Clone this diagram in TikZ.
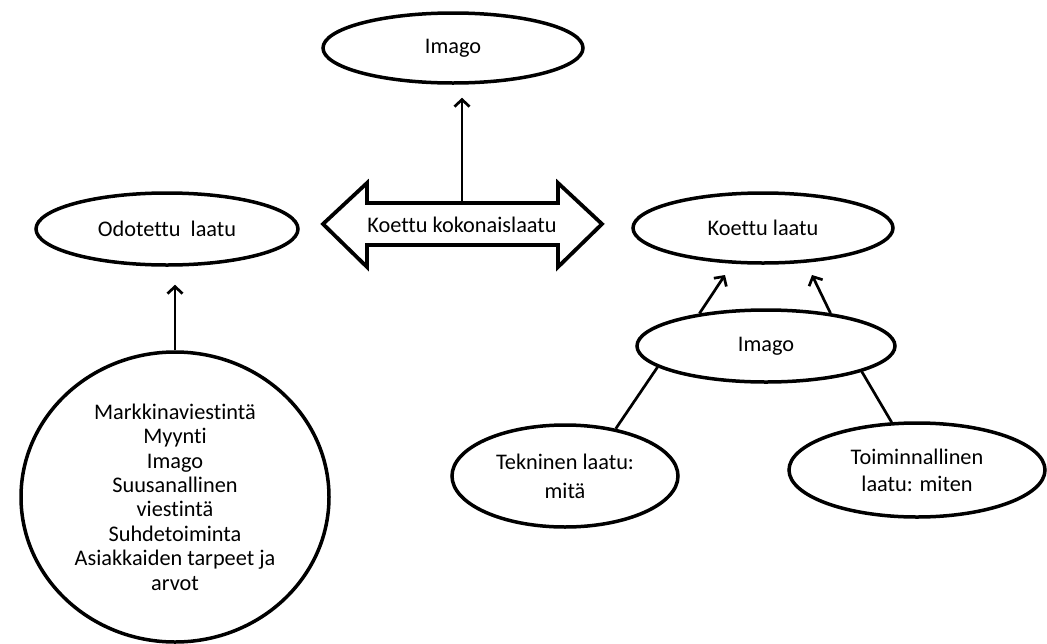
\documentclass[tikz,border=0pt]{standalone}
\usepackage{fontspec}
\setmainfont{Carlito}[Ligatures=NoCommon]
\usetikzlibrary{shapes.geometric,arrows.meta}
\begin{document}
\begin{tikzpicture}[x=1pt,y=-1pt,
  txt/.style={font=\fontsize{22.3}{24.4}\selectfont, align=center},
  oval/.style={draw, ellipse, line width=3.5pt, inner sep=0pt, txt},
  link/.style={line width=2.7pt},
  arr/.style={link, -{Straight Barb[length=7pt,width=15pt,line width=2.7pt]}}
]
\useasboundingbox (0,0) rectangle (1047,643);
\fill[white] (0,0) rectangle (1047,643);

% ellipses
\node[oval, minimum width=260pt, minimum height=70pt] (imagoTop) at (453,48) {Imago};
\node[oval, minimum width=262pt, minimum height=72pt] (odot) at (167,229) {Odotettu\ \ laatu};
\node[oval, minimum width=260pt, minimum height=70pt] (koettu) at (763,228) {Koettu laatu};
\node[oval, minimum width=258pt, minimum height=72pt] (imagoMid) at (766,346) {Imago};
\node[oval, minimum width=226pt, minimum height=102pt, font=\fontsize{22.3}{29}\selectfont] (tek) at (565,476) {Tekninen laatu:\\mitä};
\node[oval, minimum width=256pt, minimum height=94pt, font=\fontsize{22.3}{27}\selectfont] (toi) at (917,470) {Toiminnallinen\\laatu: miten};

% big circle with the list of factors
\node[oval, minimum width=308pt, minimum height=290pt] (circ) at (175,497)
  {Markkinaviestintä\\Myynti\\Imago\\Suusanallinen\\viestintä\\Suhdetoiminta\\Asiakkaiden tarpeet ja\\arvot};

% double block arrow
\draw[line width=3.8pt, line join=miter] (323,224) -- (367,183) -- (367,203) -- (558,203) -- (558,183)
  -- (602,224) -- (558,267) -- (558,245) -- (367,245) -- (367,267) -- cycle;
\node[txt] (total) at (462,225) {Koettu kokonaislaatu};
\coordinate (totalTop) at (462,203);

% connectors
\draw[arr, shorten >=13pt] (totalTop) -- (totalTop |- imagoTop.south);
\draw[arr, shorten >=18pt] (circ.north) -- (circ.north |- odot.south);
\coordinate (tipL) at (725,275);
\coordinate (tipR) at (812,275);
\draw[arr] (imagoMid.154) -- (tipL);
\draw[arr] (imagoMid.27) -- (tipR);
\draw[link] (imagoMid.191) -- (tek.43);
\draw[link] (imagoMid.345) -- (toi.118);
\end{tikzpicture}
\end{document}
